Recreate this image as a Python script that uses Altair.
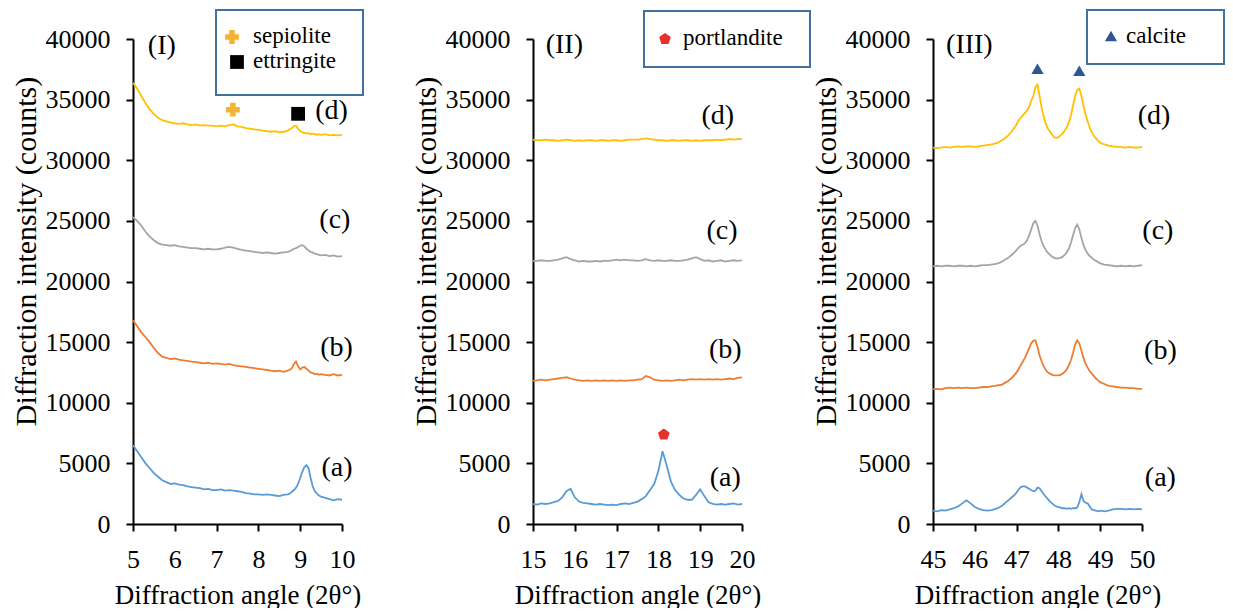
import altair as alt
import pandas as pd

FONT = "Liberation Serif"
COLORS = ["#5B9BD5", "#ED7D31", "#A5A5A5", "#FFC000"]
SERIES = ["(a)", "(b)", "(c)", "(d)"]
Y_TICKS = [0, 5000, 10000, 15000, 20000, 25000, 30000, 35000, 40000]

# ---------------- Panel I (5-10) ----------------
x1 = [5.0, 5.1, 5.2, 5.3, 5.4, 5.5, 5.6, 5.7, 5.8, 5.9, 6.0, 6.1, 6.2, 6.3, 6.4, 6.5, 6.6, 6.7, 6.8, 6.9,
      7.0, 7.1, 7.2, 7.3, 7.4, 7.5, 7.6, 7.7, 7.8, 7.9, 8.0, 8.1, 8.2, 8.3, 8.4, 8.5, 8.6, 8.7,
      8.75, 8.8, 8.85, 8.9, 8.95, 9.0, 9.05, 9.1, 9.15, 9.2, 9.25, 9.3, 9.35, 9.4, 9.45, 9.5,
      9.6, 9.7, 9.8, 9.9, 10.0]
a1 = [6500, 6000, 5500, 5000, 4600, 4200, 3900, 3600, 3450, 3300, 3350, 3250, 3200, 3100, 3050, 3000, 2950, 2850, 2900, 2800,
      2800, 2850, 2750, 2800, 2750, 2700, 2650, 2550, 2500, 2450, 2450, 2400, 2450, 2400, 2350, 2300, 2400, 2450,
      2500, 2650, 2800, 3000, 3300, 3800, 4300, 4700, 4850, 4600, 3800, 3100, 2700, 2500, 2350, 2250,
      2150, 2050, 1950, 2050, 2000]
b1 = [16800, 16300, 15800, 15400, 15000, 14500, 14100, 13800, 13700, 13600, 13650, 13550, 13500, 13450, 13400, 13350, 13300, 13250, 13300, 13200,
      13250, 13200, 13150, 13200, 13100, 13050, 13000, 12950, 12900, 12850, 12800, 12750, 12700, 12650, 12600, 12650, 12550, 12650,
      12700, 12850, 13200, 13400, 13000, 12750, 12900, 12950, 12800, 12650, 12500, 12450, 12350, 12400, 12300, 12350,
      12300, 12250, 12350, 12250, 12300]
c1 = [25300, 25000, 24600, 24100, 23700, 23400, 23150, 23050, 23000, 22950, 23000, 22900, 22850, 22800, 22750, 22750, 22700, 22650, 22700, 22650,
      22650, 22700, 22800, 22850, 22800, 22700, 22600, 22550, 22500, 22450, 22400, 22350, 22400, 22350, 22300, 22350, 22400, 22450,
      22500, 22600, 22700, 22750, 22850, 22950, 23000, 22900, 22700, 22550, 22450, 22400, 22300, 22250, 22200, 22150,
      22200, 22100, 22150, 22050, 22100]
d1 = [36400, 35900, 35300, 34700, 34200, 33800, 33500, 33300, 33200, 33100, 33050, 33000, 33050, 32950, 32900, 32950, 32850, 32900, 32850, 32850,
      32800, 32850, 32800, 32900, 32950, 32800, 32750, 32650, 32600, 32550, 32500, 32450, 32400, 32350, 32400, 32300, 32350, 32450,
      32550, 32650, 32800, 32850, 32600, 32400, 32300, 32250, 32200, 32250, 32150, 32200, 32150, 32100, 32150, 32100,
      32150, 32050, 32100, 32050, 32100]

# ---------------- Panel II (15-20) ----------------
x2 = [15.0, 15.1, 15.2, 15.3, 15.4, 15.5, 15.6, 15.7, 15.8, 15.9, 16.0, 16.1, 16.2, 16.3, 16.4, 16.5, 16.6, 16.7, 16.8, 16.9,
      17.0, 17.1, 17.2, 17.3, 17.4, 17.5, 17.6, 17.7, 17.8, 17.9, 18.0, 18.1, 18.2, 18.3, 18.4, 18.5, 18.6, 18.7, 18.8, 18.9,
      19.0, 19.1, 19.2, 19.3, 19.4, 19.5, 19.6, 19.7, 19.8, 19.9, 20.0]
a2 = [1650, 1600, 1700, 1650, 1700, 1800, 1900, 2200, 2700, 2900, 2200, 1850, 1750, 1700, 1650, 1600, 1650, 1600, 1550, 1600,
      1550, 1650, 1700, 1650, 1750, 1850, 2050, 2300, 2800, 3300, 4400, 6000, 4800, 3500, 2800, 2400, 2100, 2000, 2000, 2400,
      2850, 2300, 1800, 1650, 1600, 1650, 1600, 1650, 1700, 1600, 1650]
b2 = [11800, 11850, 11900, 11850, 11900, 11950, 12000, 12050, 12100, 12000, 11900, 11850, 11800, 11850, 11800, 11850, 11800, 11850, 11800, 11850,
      11800, 11850, 11800, 11850, 11850, 11900, 11950, 12200, 12100, 11900, 11850, 11800, 11850, 11800, 11850, 11900, 11850, 11900, 11950, 11900,
      11950, 11900, 11950, 11900, 11950, 11900, 11950, 12000, 11950, 12050, 12100]
c2 = [21700, 21700, 21750, 21700, 21700, 21750, 21800, 21900, 22000, 21850, 21750, 21650, 21700, 21650, 21650, 21700, 21650, 21700, 21700, 21750,
      21800, 21750, 21800, 21750, 21750, 21700, 21750, 21850, 21750, 21700, 21750, 21700, 21700, 21750, 21700, 21700, 21750, 21800, 21900, 22000,
      21850, 21700, 21750, 21650, 21700, 21750, 21650, 21700, 21750, 21700, 21750]
d2 = [31700, 31650, 31650, 31700, 31650, 31650, 31600, 31650, 31700, 31650, 31600, 31650, 31600, 31650, 31650, 31600, 31650, 31650, 31600, 31650,
      31650, 31600, 31650, 31700, 31700, 31700, 31750, 31800, 31750, 31700, 31650, 31650, 31600, 31650, 31650, 31600, 31650, 31650, 31600, 31650,
      31600, 31650, 31650, 31650, 31700, 31650, 31700, 31750, 31700, 31750, 31750]

# ---------------- Panel III (45-50) ----------------
x3 = [45.0, 45.1, 45.2, 45.3, 45.4, 45.5, 45.6, 45.7, 45.8, 45.9, 46.0, 46.1, 46.2, 46.3, 46.4,
      46.5, 46.55, 46.6, 46.65, 46.7, 46.75, 46.8, 46.85, 46.9, 46.95, 47.0, 47.05, 47.1, 47.15, 47.2, 47.25,
      47.3, 47.35, 47.4, 47.45, 47.5, 47.55, 47.6, 47.65, 47.7, 47.75, 47.8, 47.85, 47.9, 47.95, 48.0, 48.05,
      48.1, 48.15, 48.2, 48.25, 48.3, 48.35, 48.4, 48.45, 48.5, 48.55, 48.6, 48.65, 48.7, 48.75, 48.8, 48.85,
      48.9, 48.95, 49.0, 49.1, 49.2, 49.3, 49.4, 49.5, 49.6, 49.7, 49.8, 49.9, 50.0]
a3 = [1100, 1050, 1150, 1100, 1200, 1300, 1450, 1700, 1950, 1700, 1400, 1250, 1150, 1100, 1150,
      1250, 1300, 1400, 1500, 1650, 1800, 1950, 2100, 2250, 2400, 2600, 2850, 3050, 3100, 3100, 3000,
      2900, 2800, 2700, 2750, 3000, 2950, 2700, 2450, 2250, 2050, 1850, 1700, 1550, 1450, 1400, 1350,
      1300, 1300, 1250, 1300, 1250, 1300, 1300, 1350, 1800, 2450, 1900, 1750, 1700, 1450, 1200, 1150,
      1100, 1050, 1100, 1050, 1100, 1200, 1250, 1250, 1200, 1250, 1200, 1250, 1200]
b3 = [11100, 11150, 11100, 11200, 11250, 11200, 11250, 11200, 11250, 11200, 11200, 11250, 11300, 11300, 11350,
      11400, 11450, 11450, 11500, 11600, 11700, 11800, 11950, 12100, 12300, 12500, 12800, 13100, 13400, 13700, 14100,
      14500, 14900, 15100, 15150, 14600, 13900, 13400, 13000, 12700, 12500, 12400, 12300, 12250, 12250, 12250, 12300,
      12400, 12550, 12750, 13100, 13500, 14100, 14800, 15150, 14900, 14300, 13700, 13200, 12900, 12600, 12400, 12200,
      12000, 11850, 11700, 11550, 11400, 11350, 11300, 11250, 11250, 11200, 11200, 11150, 11150]
c3 = [21250, 21300, 21250, 21300, 21300, 21250, 21300, 21300, 21250, 21300, 21250, 21300, 21350, 21350, 21400,
      21450, 21500, 21550, 21650, 21750, 21850, 21950, 22100, 22250, 22400, 22600, 22800, 22950, 23050, 23150, 23400,
      23800, 24300, 24800, 25000, 24600, 23900, 23300, 22900, 22600, 22350, 22200, 22050, 21950, 21900, 21900, 21950,
      22050, 22200, 22400, 22700, 23200, 23800, 24400, 24700, 24300, 23600, 23000, 22600, 22300, 22100, 21950, 21800,
      21700, 21600, 21500, 21400, 21350, 21300, 21250, 21300, 21250, 21300, 21250, 21300, 21350]
d3 = [31050, 31000, 31050, 31100, 31050, 31100, 31150, 31100, 31150, 31150, 31100, 31150, 31200, 31250, 31300,
      31400, 31450, 31550, 31650, 31750, 31900, 32050, 32250, 32450, 32700, 32950, 33300, 33500, 33700, 33900, 34100,
      34400, 34900, 35300, 36000, 36250, 35300, 34300, 33600, 33000, 32600, 32350, 32100, 31900, 31850, 31900, 32050,
      32200, 32450, 32700, 33100, 33700, 34500, 35300, 35800, 35900, 35300, 34500, 33800, 33200, 32700, 32300, 32000,
      31800, 31600, 31450, 31300, 31200, 31150, 31100, 31100, 31050, 31100, 31050, 31050, 31100]

# ---------------- annotations (data coordinates) ----------------
lab1_x = [5.69, 9.75, 9.83, 9.87, 9.88]
lab1_y = [39400, 34040, 25100, 14510, 4620]
lab1_t = ["(I)", "(d)", "(c)", "(b)", "(a)"]
lab2_x = [15.75, 19.42, 19.52, 19.6, 19.6]
lab2_y = [39530, 33620, 24140, 14380, 3790]
lab2_t = ["(II)", "(d)", "(c)", "(b)", "(a)"]
lab3_x = [45.87, 50.29, 50.38, 50.44, 50.44]
lab3_y = [39530, 33620, 24140, 14240, 3790]
lab3_t = ["(III)", "(d)", "(c)", "(b)", "(a)"]

sep_x, sep_y = [7.39], [34170]
ett_x, ett_y = [8.95], [33830]
por_x, por_y = [18.13], [7370]
cal_x, cal_y = [47.5, 48.5], [37550, 37380]

PENTAGON = "M0,-1L0.951,-0.309L0.588,0.809L-0.588,0.809L-0.951,-0.309Z"
BOX_COLOR = "#41719C"
W, H = 209, 485
ONE = pd.DataFrame({"k": [0]})


def long_df(x, ys):
    rows = []
    for s, y in zip(SERIES, ys):
        for xi, yi in zip(x, y):
            rows.append({"x": xi, "y": yi, "s": s})
    return pd.DataFrame(rows)


def panel(x, ys, xdom, xticks, lx, ly, lt, extra_layers):
    xs = alt.Scale(domain=xdom, nice=False, zero=False)
    ys_ = alt.Scale(domain=[0, 40000], nice=False)
    xaxis = alt.Axis(values=xticks, format="d", title="Diffraction angle (2θ°)",
                     labelFontSize=26, labelPadding=15, titleFontSize=27, titlePadding=10)
    yaxis = alt.Axis(values=Y_TICKS, format="d", title="Diffraction intensity (counts)",
                     labelFontSize=26, labelPadding=16, titleFontSize=30, titlePadding=4,
                     titleY=212)
    lines = alt.Chart(long_df(x, ys)).mark_line(strokeWidth=1.8).encode(
        x=alt.X("x:Q", scale=xs, axis=xaxis),
        y=alt.Y("y:Q", scale=ys_, axis=yaxis),
        color=alt.Color("s:N", scale=alt.Scale(domain=SERIES, range=COLORS), legend=None),
    )
    labels = alt.Chart(pd.DataFrame({"x": lx, "y": ly, "t": lt})).mark_text(
        fontSize=28, align="center", baseline="middle"
    ).encode(x="x:Q", y="y:Q", text="t:N")
    return alt.layer(lines, labels, *extra_layers).properties(width=W, height=H)


def box(x0, x1_, y0, y1):
    return alt.Chart(ONE).mark_rect(fill="white", stroke=BOX_COLOR, strokeWidth=2).encode(
        x=alt.value(x0), x2=alt.value(x1_), y=alt.value(y0), y2=alt.value(y1))


def item_marker(px, py, shape, size, color):
    return alt.Chart(ONE).mark_point(shape=shape, size=size, filled=True, color=color, opacity=1).encode(
        x=alt.value(px), y=alt.value(py))


def item_text(px, py, txt):
    return alt.Chart(ONE).mark_text(fontSize=23, align="left", baseline="middle").encode(
        x=alt.value(px), y=alt.value(py), text=alt.value(txt))


def data_marker(mx, my, shape, size, color):
    return alt.Chart(pd.DataFrame({"x": mx, "y": my})).mark_point(
        shape=shape, size=size, filled=True, color=color, opacity=1).encode(x="x:Q", y="y:Q")


p1 = panel(x1, [a1, b1, c1, d1], [5, 10], [5, 6, 7, 8, 9, 10], lab1_x, lab1_y, lab1_t, [
    data_marker(sep_x, sep_y, "cross", 190, "#F5B335"),
    data_marker(ett_x, ett_y, "square", 190, "black"),
    box(83, 230, -29, 56),
    item_marker(99, -2, "cross", 190, "#F5B335"),
    item_marker(104, 23, "square", 190, "black"),
    item_text(120, -3, "sepiolite"),
    item_text(120, 22, "ettringite"),
])

p2 = panel(x2, [a2, b2, c2, d2], [15, 20], [15, 16, 17, 18, 19, 20], lab2_x, lab2_y, lab2_t, [
    data_marker(por_x, por_y, PENTAGON, 150, "#E8312A"),
    box(111, 277, -28, 28),
    item_marker(132, 0, PENTAGON, 150, "#E8312A"),
    item_text(150, -1, "portlandite"),
])

p3 = panel(x3, [a3, b3, c3, d3], [45, 50], [45, 46, 47, 48, 49, 50], lab3_x, lab3_y, lab3_t, [
    data_marker(cal_x, cal_y, "triangle-up", 150, "#2F5597"),
    box(154, 291, -29, 25),
    item_marker(178, -3, "triangle-up", 150, "#2F5597"),
    item_text(193, -3, "calcite"),
])

chart = alt.hconcat(p1, p2, p3, spacing=191, bounds="flush").properties(
    padding={"left": 3, "top": 1, "right": 0, "bottom": 0},
    background="white",
).configure(
    font=FONT,
).configure_view(
    stroke=None
).configure_axis(
    labelFont=FONT, titleFont=FONT, labelColor="black", titleColor="black",
    titleFontWeight="normal", domainColor="black", domainWidth=2, tickColor="black",
    tickWidth=2, tickSize=7, grid=False, labelFlush=False,
).configure_text(
    font=FONT, color="black"
)

chart.save("out.html", embed_options={"renderer": "svg", "actions": False})
